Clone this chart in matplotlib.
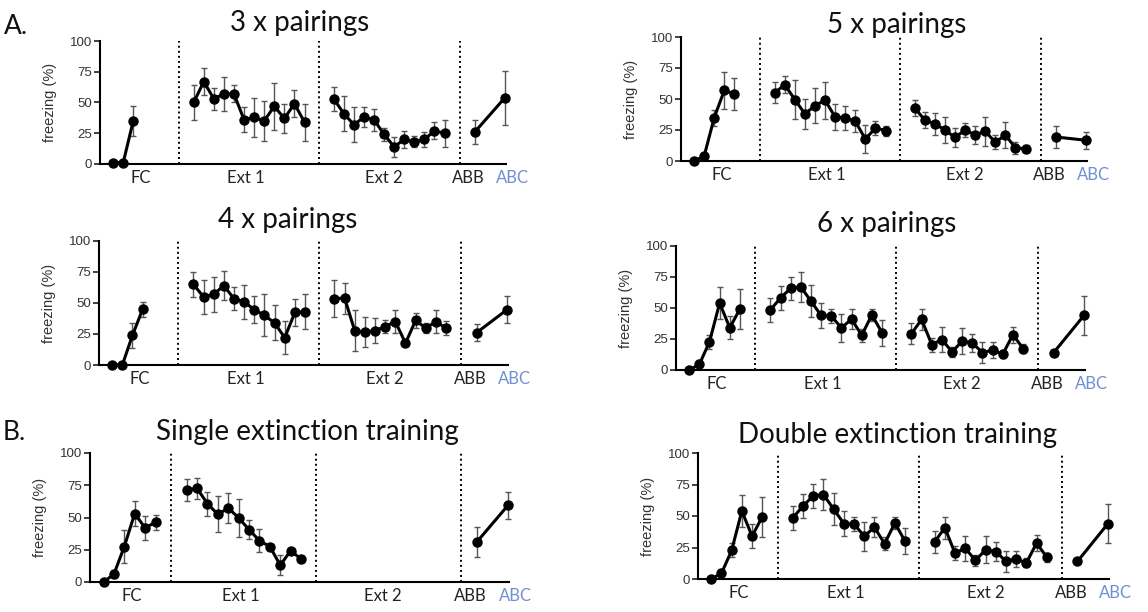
import matplotlib
matplotlib.use("Agg")
import matplotlib.pyplot as plt

# ---- data: mean freezing (%) and SEM ----

# 3 x pairings
p3_fc = [1, 1, 35]
p3_fc_sem = [0, 0, 12]
p3_ext1 = [50, 67, 53, 57, 57, 36, 38, 35, 47, 37, 49, 34]
p3_ext1_sem = [14, 11, 9, 14, 7, 10, 16, 16, 19, 12, 11, 15]
p3_ext2 = [53, 41, 32, 38, 36, 24, 14, 20, 18, 20, 27, 25]
p3_ext2_sem = [10, 14, 14, 8, 9, 5, 8, 7, 4.5, 6, 7, 11]
p3_test = [26, 54]          # ABB, ABC
p3_test_sem = [10, 22]

# 5 x pairings
p5_fc = [0, 4, 35, 57, 54]
p5_fc_sem = [0, 1, 6.5, 15, 13]
p5_ext1 = [55, 61.5, 49.5, 38, 44.6, 49, 35.5, 34.7, 32, 17.7, 26.6, 24.5]
p5_ext1_sem = [8.5, 7, 16, 12, 14, 15, 10.5, 10, 9, 11, 6, 4]
p5_ext2 = [42.7, 33, 30, 25, 19, 25, 21, 24, 15, 21, 10.5, 10]
p5_ext2_sem = [6.7, 6.5, 9, 10.5, 8, 6, 7, 11.5, 5.7, 10.7, 4.5, 3]
p5_test = [19.4, 16.7]
p5_test_sem = [9, 6.7]

# 4 x pairings
p4_fc = [0, 0, 24, 45]
p4_fc_sem = [0, 0, 10, 6]
p4_ext1 = [65, 55, 57, 64, 53.5, 51, 44.6, 40, 34, 22, 42.4, 43]
p4_ext1_sem = [10, 13.5, 14, 11.5, 9.5, 13.5, 11, 17, 14, 13.5, 11, 14]
p4_ext2 = [53.5, 54, 27.6, 26.5, 27.8, 31, 35, 17.6, 36, 29.7, 35, 29.7]
p4_ext2_sem = [15, 12.5, 16.6, 12, 10, 5.4, 9.5, 2.5, 6, 4, 9.3, 5.4]
p4_test = [26, 44.6]
p4_test_sem = [6.7, 10.8]

# 6 x pairings (also shown as double extinction training)
p6_fc = [0, 4.5, 22.7, 54, 34, 49.3]
p6_fc_sem = [0, 3.7, 5.5, 13, 9.3, 16]
p6_ext1 = [48.5, 58, 66, 67, 55.5, 44, 43.5, 34, 41, 28, 44.5, 30]
p6_ext1_sem = [9.7, 9.7, 9.3, 12, 13, 10, 5.7, 11.5, 8, 5.2, 5, 10.5]
p6_ext2 = [29.3, 40.8, 20.5, 24.5, 14.7, 23.2, 21.8, 14, 16, 12.8, 28.5, 17.3]
p6_ext2_sem = [8.5, 8.7, 5.7, 10, 4, 10.6, 7.3, 8.3, 6.3, 3.5, 6.5, 3.5]
p6_test = [13.9, 44]
p6_test_sem = [2, 15.7]

# single extinction training (no Ext 2 session)
se_fc = [0, 6, 27.5, 53, 42, 46.3]
se_fc_sem = [0, 3.2, 12.5, 9.5, 9.2, 6]
se_ext1 = [71.5, 72.5, 60.7, 52.4, 57.3, 49.7, 40.6, 32, 27.5, 13, 24.3, 17.8]
se_ext1_sem = [8.5, 8.5, 9.2, 14, 11.4, 14.7, 7.5, 9.1, 2.1, 7.9, 1.9, 2]
se_test = [31, 59.4]
se_test_sem = [11.4, 10.2]

session_labels = ["FC", "Ext 1", "Ext 2", "ABB", "ABC"]
yticks = [0, 25, 50, 75, 100]

# ---- layout (x in trial units, axes in pixels) ----
W, H = 1148, 612
FC_X0, EXT1_X0, EXT2_X0 = 1.3, 9.3, 23.2
TEST_X = [37.2, 40.2]
DIVIDERS = [7.8, 21.7, 35.7]
XMAX = 40.3
LABEL_X = [4.0, 14.5, 28.2, 36.6, 40.9]

TITLE_FONT = "Lato"
TICK_FONT = "Liberation Sans"
ABC_BLUE = "#6e8fd2"


def draw_segment(ax, x0, means, sems):
    """Plot one connected run of points with SEM bars."""
    xs = [x0 + i for i in range(len(means))] if not isinstance(x0, list) else x0
    ax.errorbar(xs, means, yerr=sems, fmt="none", ecolor="#555555",
                elinewidth=1.0, capsize=2.5, capthick=1.0, zorder=2, clip_on=False)
    ax.plot(xs, means, color="black", lw=2.2, marker="o", ms=6.5,
            zorder=3, clip_on=False)


def draw_panel(rect, title, title_xy, fc, fc_sem, ext1, ext1_sem, ext2, ext2_sem,
               test, test_sem):
    left, right, top, bottom = rect
    ax = fig.add_axes([left / W, 1 - bottom / H, (right - left) / W, (bottom - top) / H])

    draw_segment(ax, FC_X0, fc, fc_sem)
    draw_segment(ax, EXT1_X0, ext1, ext1_sem)
    if ext2 is not None:
        draw_segment(ax, EXT2_X0, ext2, ext2_sem)
    draw_segment(ax, TEST_X, test, test_sem)

    for xd in DIVIDERS:
        ax.plot([xd, xd], [0, 100], color="black", lw=1.4, ls=(0, (1, 1.6)), zorder=1)

    ax.set_xlim(0, XMAX)
    ax.set_ylim(0, 100)
    ax.set_xticks([])
    ax.set_yticks(yticks)
    ax.set_yticklabels([str(t) for t in yticks], fontfamily=TICK_FONT,
                       fontsize=9.5, color="#333333")
    ax.tick_params(axis="y", length=4, width=1.3, pad=1.5, color="#333333")
    for side in ["top", "right"]:
        ax.spines[side].set_visible(False)
    for side in ["left", "bottom"]:
        ax.spines[side].set_linewidth(1.5)
    ax.patch.set_alpha(0)

    ax.set_ylabel("freezing (%)", fontfamily=TICK_FONT, fontsize=10.5, color="#333333")
    ax.yaxis.set_label_coords(-43 / (right - left), 0.5)

    # session names under the x axis
    for lab, xl in zip(session_labels, LABEL_X):
        ax.text(xl, -11, lab, ha="center", va="center", fontfamily=TITLE_FONT,
                fontsize=12, color=ABC_BLUE if lab == "ABC" else "#222222",
                transform=ax.transData, clip_on=False)

    fig.text(title_xy[0] / W, 1 - title_xy[1] / H, title, ha="center", va="center",
             fontfamily=TITLE_FONT, fontsize=20, color="#111111")
    return ax


fig = plt.figure(figsize=(W / 100, H / 100), dpi=100)

draw_panel((100, 506, 41, 164), "3 x pairings", (300, 23),
           p3_fc, p3_fc_sem, p3_ext1, p3_ext1_sem, p3_ext2, p3_ext2_sem, p3_test, p3_test_sem)
draw_panel((681, 1087, 37, 161), "5 x pairings", (897, 25),
           p5_fc, p5_fc_sem, p5_ext1, p5_ext1_sem, p5_ext2, p5_ext2_sem, p5_test, p5_test_sem)
draw_panel((99, 508, 241, 365), "4 x pairings", (288, 220),
           p4_fc, p4_fc_sem, p4_ext1, p4_ext1_sem, p4_ext2, p4_ext2_sem, p4_test, p4_test_sem)
draw_panel((676, 1085, 246, 370), "6 x pairings", (887, 224),
           p6_fc, p6_fc_sem, p6_ext1, p6_ext1_sem, p6_ext2, p6_ext2_sem, p6_test, p6_test_sem)
draw_panel((90, 509, 453, 582), "Single extinction training", (307, 432),
           se_fc, se_fc_sem, se_ext1, se_ext1_sem, None, None, se_test, se_test_sem)
draw_panel((698, 1109, 453, 579), "Double extinction training", (897, 435),
           p6_fc, p6_fc_sem, p6_ext1, p6_ext1_sem, p6_ext2, p6_ext2_sem, p6_test, p6_test_sem)

# panel letters
fig.text(16 / W, 1 - 27 / H, "A.", ha="center", va="center", fontfamily=TITLE_FONT,
         fontsize=19, color="#111111")
fig.text(14 / W, 1 - 432 / H, "B.", ha="center", va="center", fontfamily=TITLE_FONT,
         fontsize=19, color="#111111")

fig.savefig("out.png", dpi=100)
